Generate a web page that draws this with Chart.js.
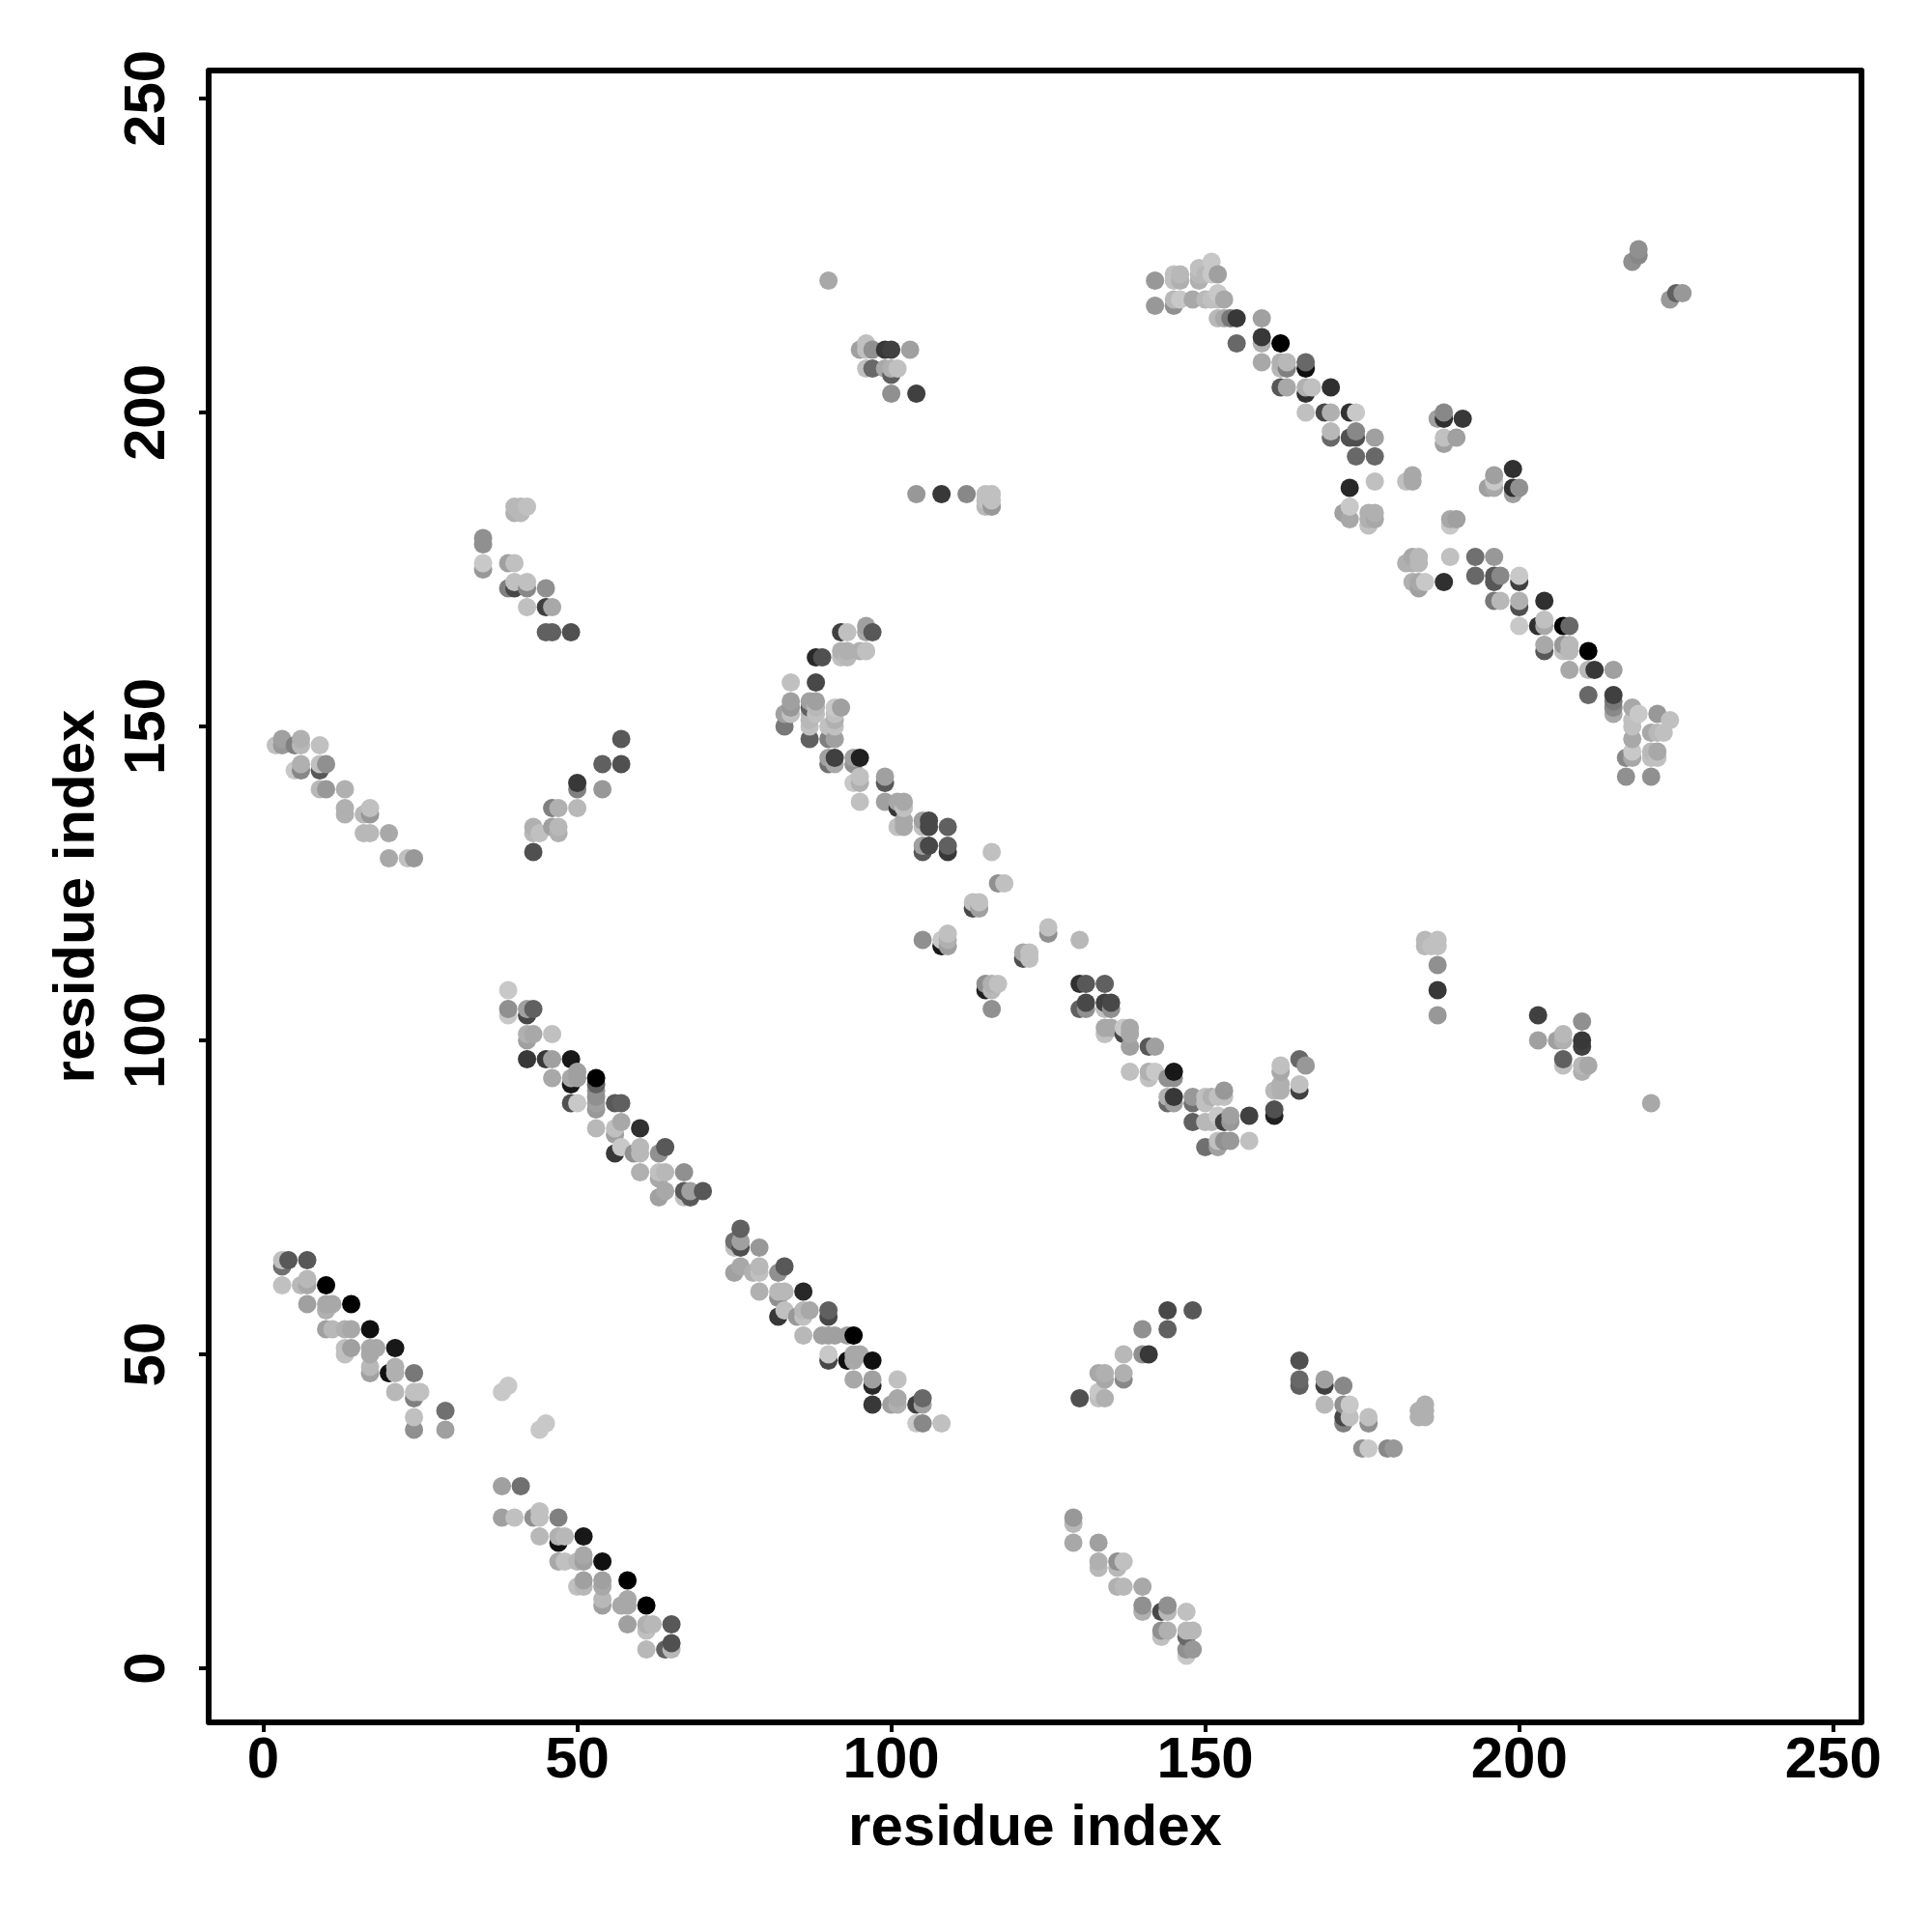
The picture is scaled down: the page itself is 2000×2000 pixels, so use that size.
<!DOCTYPE html>
<html>
<head>
<meta charset="utf-8">
<style>
  body { margin: 0; background: #fff; }
  canvas { display: block; }
</style>
<script src="https://cdn.jsdelivr.net/npm/chart.js@4"></script>
</head>
<body>
<canvas id="contact-map" width="2000" height="2000"></canvas>
<script>
// each contact: [residue x, residue y, strength]  strength 0 = lightest, 25 = black
const lowerLeftStrand = [[3,64,11],[3,65,1],[4,65,14],[7,65,14],[3,61,1],[6,61,2],[7,61,4],[7,62,2],[10,61,25],[7,58,5],[10,57,3],[10,58,4],[11,58,4],[14,58,25],[10,54,5],[11,54,2],[13,54,3],[14,54,4],[17,54,23],[13,50,1],[13,51,1],[14,51,5],[17,50,4],[17,51,4],[18,51,4],[21,51,22],[17,47,5],[17,48,2],[20,47,23],[21,47,3],[21,48,3],[24,47,10],[21,44,2],[24,43,9],[24,44,1],[25,44,1],[29,41,11],[24,40,1],[24,38,7],[29,38,5],[38,44,0],[39,45,0],[44,38,0],[45,39,0]];
const bottomStrand = [[38,29,5],[41,29,11],[38,24,5],[40,24,1],[43,24,7],[44,24,1],[44,25,1],[47,24,9],[44,21,2],[47,20,23],[47,21,3],[48,21,2],[51,21,22],[47,17,4],[48,17,1],[50,17,2],[51,17,5],[51,18,4],[54,17,23],[50,13,1],[51,13,2],[51,14,5],[54,13,4],[54,14,5],[58,14,25],[54,10,5],[54,11,2],[57,10,4],[58,10,4],[58,11,4],[61,10,25],[58,7,5],[61,6,1],[61,7,3],[62,7,2],[65,7,14],[61,3,2],[64,3,13],[65,3,2],[65,4,15]];
const middleStrand = [[39,108,0],[39,104,0],[39,105,7],[42,104,16],[42,105,5],[43,105,13],[42,100,5],[42,101,3],[43,101,4],[46,101,1],[42,97,18],[45,97,18],[46,97,5],[49,97,22],[46,94,4],[49,93,22],[49,94,4],[50,94,5],[50,95,5],[53,94,25],[53,93,13],[53,91,7],[53,92,7],[53,89,6],[53,90,5],[49,90,15],[50,90,0],[56,90,14],[57,90,13],[53,86,2],[56,85,5],[56,86,1],[57,87,4],[60,86,19],[56,82,18],[57,83,0],[59,82,7],[60,82,2],[60,83,2],[63,82,7],[64,83,14],[60,79,3],[63,78,4],[63,79,1],[64,79,2],[67,79,7],[63,75,5],[64,76,4],[67,76,14],[67,75,1],[68,75,14],[68,76,5],[70,76,14]];
const centerStrand = [[76,70,13],[75,68,11],[76,67,15],[75,67,1],[76,68,5],[79,67,6],[75,63,5],[76,64,4],[78,63,3],[79,63,1],[79,64,2],[82,63,7],[83,64,14],[79,60,3],[82,59,7],[82,60,2],[83,60,2],[86,60,20],[82,56,18],[83,57,1],[85,56,6],[86,56,1],[86,57,2],[87,57,4],[90,56,16],[90,57,13],[86,53,2],[89,53,5],[90,53,5],[91,53,5],[93,53,5],[94,53,25],[90,49,16],[90,50,0],[93,49,23],[94,49,4],[94,50,4],[95,50,4],[97,49,23],[94,46,4],[97,45,20],[97,46,5],[101,46,1],[97,42,18],[100,42,5],[101,42,3],[101,43,4],[104,42,17],[105,42,5],[105,43,12],[104,39,0],[105,39,8],[108,39,1]];
const risingPatch = [[130,43,15],[133,43,1],[133,44,0],[134,43,3],[133,47,4],[134,46,4],[134,47,3],[137,46,8],[137,47,3],[137,50,2],[140,50,7],[141,50,18],[140,54,7],[144,54,13],[144,57,16],[148,57,14]];
const lowerRightPatch = [[165,49,15],[165,45,13],[165,46,12],[169,45,17],[169,46,5],[172,45,8],[169,42,2],[172,42,7],[173,42,0],[172,39,9],[172,40,16],[173,40,1],[176,39,7],[176,40,1],[175,35,7],[176,35,0],[179,35,8],[180,35,6],[184,40,3],[184,41,3],[185,40,3],[185,42,3],[185,41,3]];
const bottomRightStrand = [[129,23,2],[129,24,6],[129,20,4],[133,20,5],[133,16,2],[133,17,3],[136,16,2],[136,17,7],[137,17,1],[136,13,3],[137,13,2],[140,13,4],[140,9,3],[140,10,7],[143,9,16],[144,9,2],[144,10,7],[147,9,1],[143,5,1],[143,6,7],[144,6,3],[147,5,12],[147,6,2],[148,6,2],[147,2,0],[147,3,7],[148,3,6]];
const leftStrand = [[2,147,1],[3,147,6],[3,148,5],[5,147,9],[6,147,2],[6,148,3],[9,147,1],[5,143,0],[6,143,8],[6,144,3],[9,143,14],[9,144,1],[10,144,7],[9,140,2],[10,140,6],[13,140,3],[13,136,3],[13,137,3],[16,136,2],[17,136,6],[17,137,1],[16,133,2],[17,133,2],[20,133,4],[20,129,4],[23,129,1],[24,129,6]];
const upperLeftStrand = [[35,180,7],[35,179,7],[35,175,6],[35,176,0],[39,176,5],[40,176,1],[39,172,9],[40,172,16],[40,173,1],[42,172,8],[42,173,1],[45,172,7],[42,169,1],[45,169,17],[46,169,4],[45,165,13],[46,165,13],[49,165,15],[40,184,3],[40,185,2],[41,184,2],[41,185,2],[42,185,1]];
const risingLeftPatch = [[43,130,15],[43,133,2],[43,134,3],[44,133,1],[46,134,5],[47,133,3],[47,134,2],[46,137,9],[47,137,3],[50,137,2],[50,140,9],[50,141,18],[54,140,6],[54,144,13],[57,144,15],[57,148,14]];
const hookStrand = [[92,165,17],[93,165,1],[96,166,5],[96,165,4],[97,165,14],[88,161,20],[89,161,15],[92,161,1],[92,162,3],[93,161,2],[93,162,3],[95,162,3],[96,162,1],[84,157,1],[88,157,16],[83,150,10],[83,152,5],[84,152,1],[84,153,6],[84,154,5],[87,148,13],[87,150,1],[87,151,2],[87,152,2],[87,153,13],[87,154,5],[88,152,1],[88,153,2],[88,154,5],[90,148,9],[91,148,5],[90,150,1],[91,150,1],[91,151,3],[91,152,1],[91,153,0],[92,153,5],[90,144,11],[90,145,5],[91,144,4],[91,145,17],[94,145,5],[94,144,7],[95,145,21],[94,141,0],[95,141,3],[95,142,1],[99,141,14],[99,142,5],[95,138,1],[99,138,5],[101,137,18],[101,138,4],[102,138,4],[102,137,1],[101,134,1],[102,134,4],[102,135,4],[105,135,5],[105,134,1],[106,135,16],[106,134,16],[109,134,13],[105,130,14],[105,131,5],[106,131,16],[109,130,18],[109,131,13],[116,130,1],[117,125,7],[118,125,1]];
const hookTail = [[113,121,16],[113,122,1],[114,121,5],[114,122,1],[105,116,7],[108,115,22],[108,116,0],[109,115,5],[109,116,3],[109,117,1],[121,113,15],[121,114,4],[122,113,1],[122,114,1],[125,117,7],[125,118,1],[130,116,2],[115,109,7],[115,108,21],[116,109,3],[116,108,2],[117,109,1],[116,105,7]];
const valleyStrand = [[130,109,19],[131,109,14],[134,109,13],[130,105,13],[131,105,7],[131,106,16],[134,106,17],[134,105,1],[135,105,7],[135,106,16],[134,101,1],[134,102,4],[135,102,4],[137,101,16],[137,102,0],[138,102,4],[138,101,4],[138,99,5],[141,99,14],[142,99,5],[138,95,1],[141,94,1],[141,95,3],[142,95,0],[144,94,7],[145,94,7],[145,95,22],[144,90,12],[144,91,3],[145,90,5],[145,91,18],[148,90,11],[148,91,6],[150,90,1],[150,91,1],[151,91,3],[152,91,1],[153,91,1],[153,92,6],[148,87,13],[150,87,2],[151,87,2],[152,88,0],[153,87,17],[154,87,6],[154,88,5],[157,88,17],[161,88,21],[161,89,15],[150,83,11],[152,83,5],[152,84,1],[153,84,7],[154,84,6],[157,84,1],[161,92,2],[162,92,3],[162,93,3],[162,95,4],[162,96,1],[165,92,17],[165,93,1],[165,97,12],[166,96,6]];
const topStrand = [[142,221,6],[142,217,6],[145,221,1],[146,221,3],[145,222,1],[146,222,2],[149,221,3],[149,223,1],[149,222,2],[150,222,2],[151,224,0],[151,222,0],[152,222,5],[145,217,7],[145,218,2],[146,218,0],[148,218,4],[150,218,2],[151,218,1],[152,219,0],[152,218,1],[153,218,4],[152,215,2],[153,215,4],[154,215,10],[155,215,18],[159,215,5],[155,211,12],[159,211,3],[159,212,18],[162,211,25],[159,208,4],[162,208,3],[162,207,2],[163,207,9],[163,208,2],[166,207,23],[166,208,12],[162,204,14],[163,204,4],[166,204,3],[166,203,19],[167,204,1],[170,204,19],[166,200,1],[169,200,16],[170,200,3],[173,200,19],[174,200,0],[170,196,12],[170,197,2],[173,196,15],[174,196,15],[174,197,8],[177,196,5],[174,193,12],[177,193,12],[177,189,1],[173,188,20],[182,189,1],[183,189,4],[183,190,4],[172,184,5],[173,183,4],[173,185,0],[176,182,1],[176,184,3],[176,183,3],[177,184,3],[177,183,4]];
const upperRightPatch = [[187,199,5],[188,199,19],[188,200,8],[191,199,18],[188,195,5],[188,196,1],[190,196,5]];
const rightStrand = [[195,188,5],[196,188,4],[196,190,5],[196,189,0],[199,191,19],[199,187,5],[199,188,19],[200,188,7],[189,182,0],[189,183,4],[190,183,5],[182,176,3],[183,176,3],[184,176,2],[184,177,2],[183,177,4],[189,177,1],[193,177,11],[196,177,6],[183,173,3],[184,172,5],[184,173,4],[185,173,0],[188,173,19],[193,174,12],[196,173,14],[196,174,14],[197,174,8],[200,173,17],[200,174,0],[196,170,10],[197,170,2],[200,169,15],[200,170,3],[204,170,19],[200,166,0],[203,166,19],[204,166,4],[204,167,1],[207,166,25],[208,166,12],[204,162,14],[204,163,4],[207,163,6],[207,162,1],[208,162,2],[208,163,2],[211,162,25],[208,159,4],[211,159,2],[212,159,18],[215,159,5],[211,155,12],[215,155,17],[215,154,10],[215,153,8],[215,152,4],[218,153,4],[219,152,0],[218,151,1],[218,150,1],[218,148,4],[222,152,6],[224,151,1],[221,149,4],[222,149,2],[223,149,1],[217,145,8],[218,145,4],[218,146,0],[221,146,2],[221,145,1],[222,145,1],[222,146,4],[217,142,7],[221,142,7]];
const upperMiddlePatch = [[90,221,4],[95,210,5],[96,211,1],[96,210,1],[97,210,7],[99,210,18],[100,210,17],[103,210,5],[96,207,1],[97,207,12],[99,207,4],[100,207,3],[100,206,13],[101,207,1],[100,203,7],[104,203,17],[104,187,6],[108,187,18],[112,187,8],[115,187,1],[116,187,1],[115,185,2],[116,185,6],[116,186,1],[115,186,1]];
const scatteredRight = [[185,116,2],[185,115,2],[186,115,1],[187,116,1],[187,115,1],[187,112,7],[187,108,18],[187,104,6],[203,104,17],[203,100,5],[206,100,5],[207,101,2],[207,100,3],[207,97,13],[207,96,1],[210,103,7],[210,100,18],[210,99,17],[210,96,2],[210,95,3],[211,96,4],[221,90,4],[218,224,7],[219,225,8],[219,226,7],[224,218,6],[225,219,13],[226,219,6]];

const tickValues = [0, 50, 100, 150, 200, 250];
const axisLabel = 'residue index';

// overlaps in the plot follow x then y, later points on top
const contacts = [
  ...lowerLeftStrand, ...bottomStrand, ...middleStrand, ...centerStrand, ...risingPatch,
  ...lowerRightPatch, ...bottomRightStrand, ...leftStrand, ...upperLeftStrand, ...risingLeftPatch,
  ...hookStrand, ...hookTail, ...valleyStrand, ...topStrand, ...upperRightPatch, ...rightStrand,
  ...upperMiddlePatch, ...scatteredRight
].sort((a, b) => a[0] - b[0] || a[1] - b[1]);

const strengthToGrey = (s) => {
  const g = 200 - 8 * s;
  return `rgb(${g},${g},${g})`;
};

const boldFont = { family: '"Liberation Sans", Arial, sans-serif', weight: 'bold', size: 60 };

const sharedTicks = (scale) => {
  scale.ticks = tickValues.map((value) => ({ value, label: String(value) }));
};

// box round the plot and the rotated y tick labels
const framePlugin = {
  id: 'frame',
  afterDraw(chart) {
    const { ctx, chartArea, scales } = chart;
    ctx.save();
    ctx.lineWidth = 6;
    ctx.strokeStyle = '#000';
    ctx.lineJoin = 'round';
    ctx.strokeRect(chartArea.left, chartArea.top, chartArea.right - chartArea.left, chartArea.bottom - chartArea.top);
    ctx.fillStyle = '#000';
    ctx.font = 'bold 60px "Liberation Sans", Arial, sans-serif';
    ctx.textAlign = 'center';
    ctx.textBaseline = 'alphabetic';
    tickValues.forEach((value) => {
      ctx.save();
      ctx.translate(170, scales.y.getPixelForValue(value));
      ctx.rotate(-Math.PI / 2);
      ctx.fillText(String(value), 0, 0);
      ctx.restore();
    });
    ctx.restore();
  }
};

new Chart(document.getElementById('contact-map').getContext('2d'), {
  type: 'scatter',
  data: {
    datasets: [{
      data: contacts.map((c) => ({ x: c[0], y: c[1] })),
      pointBackgroundColor: contacts.map((c) => strengthToGrey(c[2])),
      pointRadius: 9.5,
      pointBorderWidth: 0
    }]
  },
  options: {
    responsive: false,
    animation: false,
    layout: { padding: { top: 73, right: 73, left: 0, bottom: 0 } },
    plugins: { legend: { display: false }, tooltip: { enabled: false } },
    scales: {
      x: {
        type: 'linear',
        min: -8.7,
        max: 254.5,
        afterBuildTicks: sharedTicks,
        afterFit: (scale) => { scale.height = 217; },
        border: { display: false },
        grid: { drawOnChartArea: false, drawTicks: true, tickLength: 10, lineWidth: 4, color: '#000' },
        ticks: { color: '#000', font: boldFont, padding: -6, maxRotation: 0, minRotation: 0 },
        title: { display: true, text: axisLabel, color: '#000', font: boldFont, padding: { top: 0, bottom: 71 } }
      },
      y: {
        type: 'linear',
        min: -8.6,
        max: 254.45,
        afterBuildTicks: sharedTicks,
        afterFit: (scale) => { scale.width = 216; },
        border: { display: false },
        grid: { drawOnChartArea: false, drawTicks: true, tickLength: 10, lineWidth: 4, color: '#000' },
        ticks: { display: false },
        title: { display: true, text: axisLabel, color: '#000', font: boldFont, padding: { top: 44, bottom: 0 } }
      }
    }
  },
  plugins: [framePlugin]
});
</script>
</body>
</html>
